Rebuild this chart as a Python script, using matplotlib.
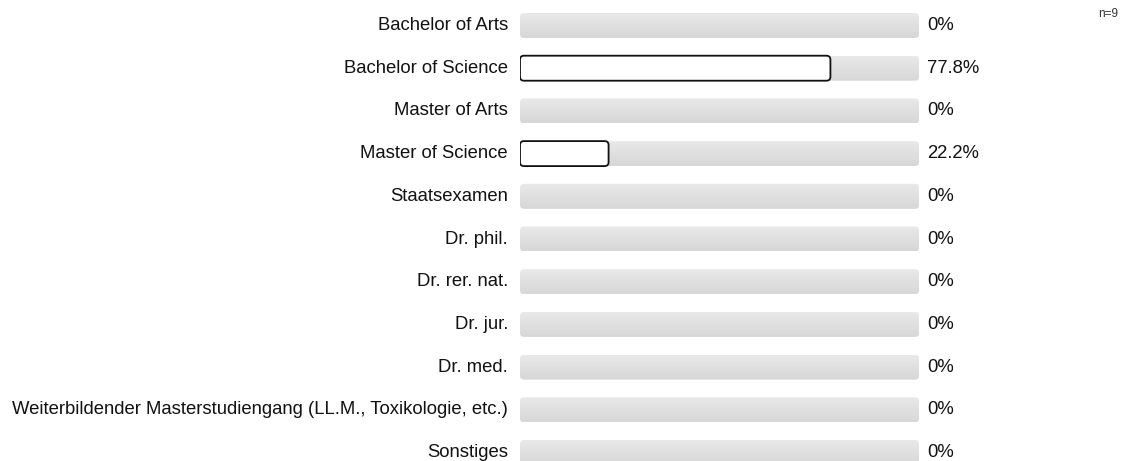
import numpy as np
import matplotlib.pyplot as plt
from matplotlib.patches import FancyBboxPatch
from matplotlib.colors import LinearSegmentedColormap

categories = ['Bachelor of Arts', 'Bachelor of Science', 'Master of Arts', 'Master of Science',
              'Staatsexamen', 'Dr. phil.', 'Dr. rer. nat.', 'Dr. jur.', 'Dr. med.',
              'Weiterbildender Masterstudiengang (LL.M., Toxikologie, etc.)', 'Sonstiges']
values = [0, 77.8, 0, 22.2, 0, 0, 0, 0, 0, 0, 0]
value_labels = ['0%', '77.8%', '0%', '22.2%', '0%', '0%', '0%', '0%', '0%', '0%', '0%']
n_label = 'n=9'

plt.rcParams['font.family'] = ['Liberation Sans', 'DejaVu Sans']

W, H = 1121, 461
fig = plt.figure(figsize=(W / 100, H / 100), dpi=100)
# bar track spans x=520..919 px, rows every ~42.7 px starting at y=25.5
x0, x1 = 520, 919
step, first = 42.7, 25.5
ax = fig.add_axes([x0 / W, 0, (x1 - x0) / W, 1])
ax.axis('off')

px_x = 100 / (x1 - x0)      # data units per pixel (x)
px_y = 1 / step             # data units per pixel (y)
aspect = px_y / px_x
bar_h = 25 * px_y
r = 4 * px_x

grad = np.linspace(0, 1, 50).reshape(-1, 1)
gray = LinearSegmentedColormap.from_list('g', ['#e9e9e9', '#d7d7d7'])

for i, (cat, v, lab) in enumerate(zip(categories, values, value_labels)):
    top, bot = i - bar_h / 2, i + bar_h / 2
    track = FancyBboxPatch((0, top), 100, bar_h,
                           boxstyle=f'round,pad=0,rounding_size={r}',
                           mutation_aspect=aspect, facecolor='none',
                           edgecolor='none')
    ax.add_patch(track)
    img = ax.imshow(grad, cmap=gray, extent=(0, 100, bot, top), aspect='auto',
                    interpolation='bilinear', zorder=1)
    img.set_clip_path(track)
    if v > 0:
        bar = FancyBboxPatch((0, top), v, bar_h,
                             boxstyle=f'round,pad=0,rounding_size={r}',
                             mutation_aspect=aspect, facecolor='white',
                             edgecolor='#111111', linewidth=1.3, zorder=2)
        ax.add_patch(bar)
    ax.annotate(cat, (0, i), xytext=(-12, 0), textcoords='offset pixels',
                ha='right', va='center', fontsize=13.3, color='#111111')
    ax.annotate(lab, (100, i), xytext=(8, 0), textcoords='offset pixels',
                ha='left', va='center', fontsize=13.3, color='#111111')

ax.set_xlim(0, 100)
ax.set_ylim((H - first) / step, -first / step)

fig.text(1118 / W, 1 - 14 / H, n_label, ha='right', va='center', fontsize=8.5, color='#333333')

fig.savefig('out.png', dpi=100)
